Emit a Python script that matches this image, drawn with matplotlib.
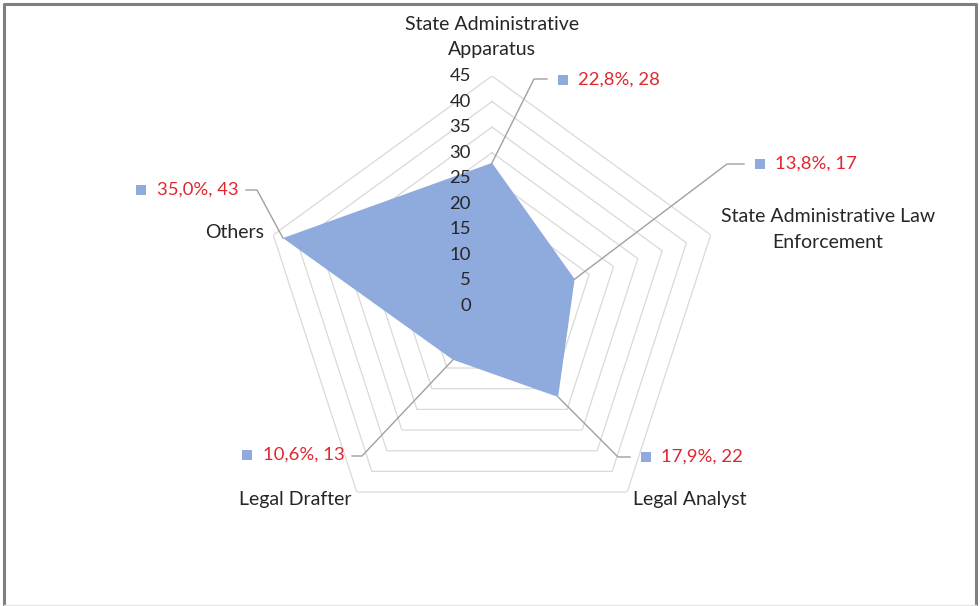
import matplotlib
matplotlib.use("Agg")
import matplotlib.pyplot as plt
import numpy as np
from matplotlib.lines import Line2D
from matplotlib.patches import Rectangle
from matplotlib.transforms import IdentityTransform, offset_copy

# ---- data ----
categories = ["State Administrative\nApparatus",
              "State Administrative Law\nEnforcement",
              "Legal Analyst",
              "Legal Drafter",
              "Others"]
values = [28, 17, 22, 13, 43]
percents = ["22,8%", "13,8%", "17,9%", "10,6%", "35,0%"]
ticks = [0, 5, 10, 15, 20, 25, 30, 35, 40, 45]

# ---- layout / style ----
W, H = 980, 606
FILL = "#8FAADC"
RING = "#D9D9D9"
LEAD = "#A0A0A0"
RED = "#E0262E"
DARK = "#262626"
FONT = "Lato"
FS_CAT = 14
FS_LAB = 13.3
FS_TICK = 13.3
plt.rcParams["font.family"] = [FONT, "DejaVu Sans"]

fig = plt.figure(figsize=(W / 100, H / 100), dpi=100)
fig.patch.set_facecolor("white")

cx, cy, R = 492, 306, 230  # image pixel coords of the radar centre, outer radius
ax = fig.add_axes([(cx - R) / W, (H - cy - R) / H, 2 * R / W, 2 * R / H],
                  projection="polar")
ax.set_theta_zero_location("N")
ax.set_theta_direction(-1)
ax.set_ylim(0, ticks[-1])
ax.set_axis_off()

n = len(categories)
theta = np.arange(n) * 2 * np.pi / n
theta_c = np.append(theta, theta[0])

for t in ticks[1:]:
    ax.plot(theta_c, [t] * (n + 1), color=RING, lw=0.9, zorder=1)

vals_c = np.append(values, values[0])
ax.fill(theta_c, vals_c, color=FILL, lw=0, zorder=2)

# tick labels along the top axis
toff = offset_copy(ax.transData, fig=fig, x=-21, y=0, units="dots")
for t in ticks:
    ax.text(0, t, str(t), transform=toff, ha="right", va="center",
            fontsize=FS_TICK, color=DARK, zorder=5)

fig.canvas.draw()
renderer = fig.canvas.get_renderer()

def img2disp(x, y):
    return x, H - y

# data-label layout: (elbow, end of leader, side, label centre y)
label_layout = [
    ((534, 79), (547, 79), "right", 80),
    ((727, 164), (744, 164), "right", 164),
    ((618, 457), (630, 457), "right", 457),
    ((362, 456), (352, 456), "left", 455),
    ((257, 190), (246, 190), "left", 190),
]
idt = IdentityTransform()
sq = 10
for i, (elbow, end, side, ly) in enumerate(label_layout):
    px, py = ax.transData.transform((theta[i], values[i]))
    ex, ey = img2disp(*elbow)
    fx, fy = img2disp(*end)
    fig.add_artist(Line2D([px, ex, fx], [py, ey, fy], color=LEAD, lw=1.0,
                          transform=idt, zorder=3))
    txt = f"{percents[i]}, {values[i]}"
    _, dy = img2disp(0, ly)
    if side == "right":
        sx = fx + 11
        fig.add_artist(Rectangle((sx, dy - sq / 2), sq, sq, facecolor=FILL,
                                 edgecolor="none", transform=idt))
        fig.text(sx + sq + 10, dy, txt, transform=idt, ha="left", va="center",
                 fontsize=FS_LAB, color=RED)
    else:
        tx = fx - 7
        t_ = fig.text(tx, dy, txt, transform=idt, ha="right", va="center",
                      fontsize=FS_LAB, color=RED)
        bb = t_.get_window_extent(renderer=renderer)
        fig.add_artist(Rectangle((bb.x0 - 11 - sq, dy - sq / 2), sq, sq,
                                 facecolor=FILL, edgecolor="none", transform=idt))

# category labels (line centre positions in image coords)
cat_pos = [
    [(492, 24), (492, 50)],
    [(828, 216), (828, 243)],
    [(690, 499)],
    [(295, 499)],
    [(235, 232)],
]
for name, pos in zip(categories, cat_pos):
    for line, (x, y) in zip(name.split("\n"), pos):
        dx, dy = img2disp(x, y)
        fig.text(dx, dy, line, transform=idt, ha="center", va="center",
                 fontsize=FS_CAT, color=DARK)

# frame
fig.add_artist(Line2D([4, 4, 976, 976], [0, H - 4, H - 4, 0], color="#7F7F7F",
                      lw=2.2, transform=idt))
fig.add_artist(Line2D([4, 976], [1.5, 1.5], color="#E6E6E6", lw=1.0,
                      transform=idt))

fig.savefig("out.png", dpi=100)
